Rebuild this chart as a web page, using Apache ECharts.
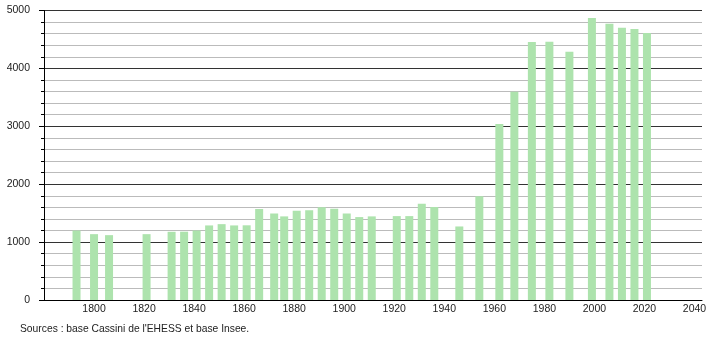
<!DOCTYPE html>
<html>
<head>
<meta charset="utf-8">
<script src="https://cdn.jsdelivr.net/npm/echarts@6/dist/echarts.min.js"></script>
<style>html,body{margin:0;padding:0;background:#fff}#c{width:710px;height:340px}</style>
</head>
<body>
<div id="c"></div>
<script>
const years = [1793,1800,1806,1821,1831,1836,1841,1846,1851,1856,1861,1866,1872,1876,1881,1886,1891,1896,1901,1906,1911,1921,1926,1931,1936,1946,1954,1962,1968,1975,1982,1990,1999,2006,2011,2016,2021];
const population = [1200,1137,1120,1137,1178,1180,1200,1288,1310,1288,1290,1570,1496,1444,1542,1548,1600,1577,1496,1432,1444,1449,1449,1664,1605,1270,1790,3038,3598,4454,4459,4286,4870,4771,4702,4679,4610];
const xTickLabels = [1800,1820,1840,1860,1880,1900,1920,1940,1960,1980,2000,2020,2040];
const yTickLabels = [0,1000,2000,3000,4000,5000];
const sourceText = "Sources : base Cassini de l'EHESS et base Insee.";

const chart = echarts.init(document.getElementById('c'), null, {renderer:'canvas'});
const font = 'Liberation Sans, Arial, sans-serif';
chart.setOption({
  animation:false,
  backgroundColor:'#fff',
  grid:{left:44, right:8, top:10.5, bottom:40, containLabel:false},
  xAxis:{
    type:'value', min:1780, max:2043, interval:20,
    axisLine:{show:true, lineStyle:{color:'#000', width:1}},
    axisTick:{show:false},
    splitLine:{show:false},
    axisLabel:{margin:4, fontSize:10.5, fontFamily:font, color:'#222',
      formatter:v => xTickLabels.indexOf(v) >= 0 ? String(v) : ''}
  },
  yAxis:{
    type:'value', min:0, max:5000, interval:1000,
    axisLine:{show:true, lineStyle:{color:'#000', width:1}},
    axisTick:{show:true, inside:false, length:5, lineStyle:{color:'#000'}},
    minorTick:{show:true, splitNumber:5, length:3, lineStyle:{color:'#000'}},
    splitLine:{show:true, lineStyle:{color:'#333', width:1}},
    minorSplitLine:{show:true, lineStyle:{color:'#bbb', width:1}},
    axisLabel:{margin:14, fontSize:10.5, fontFamily:font, color:'#222',
      formatter:v => yTickLabels.indexOf(v) >= 0 ? String(v) : ''}
  },
  series:[{
    type:'bar', barWidth:8,
    data: years.map((y,i)=>[y, population[i]]),
    itemStyle:{color:'#ade3ad'}
  }],
  graphic:[{
    type:'text', left:20, top:324,
    style:{text:sourceText, font:'10.3px '+font, fill:'#222'}
  }]
});
</script>
</body>
</html>
